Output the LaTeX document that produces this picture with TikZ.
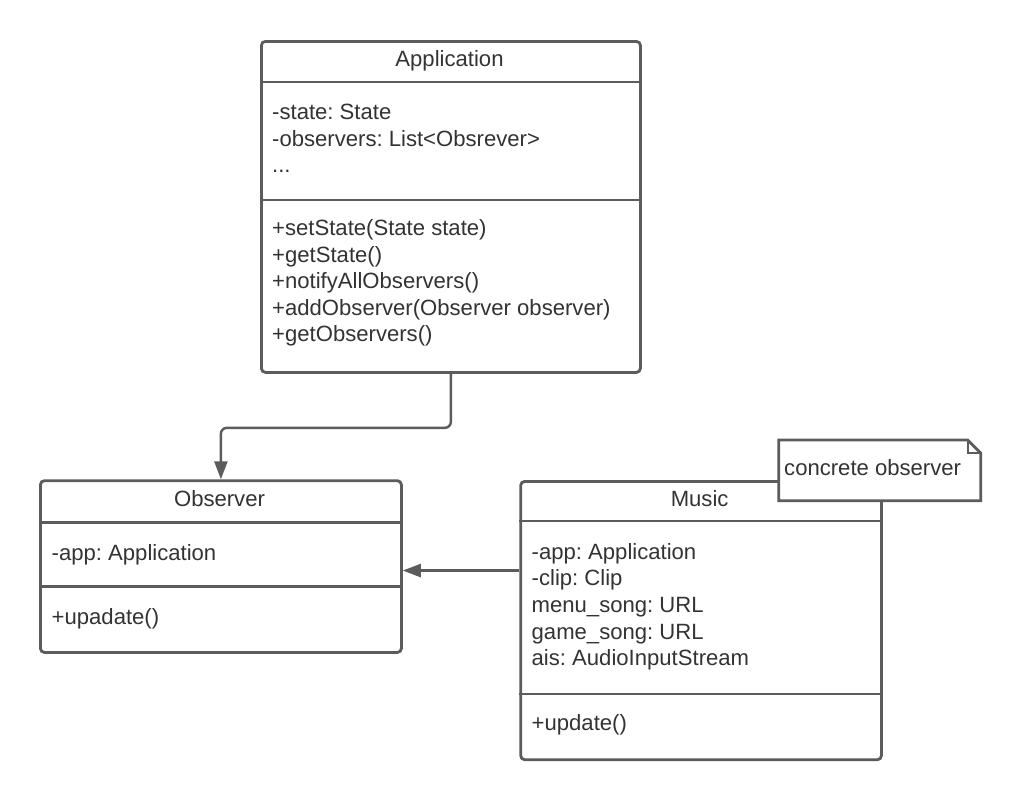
\documentclass[tikz,border=0pt]{standalone}
\usepackage{fontspec}
\setmainfont{Liberation Sans}
\usetikzlibrary{arrows.meta}
\definecolor{umlline}{HTML}{5C5C5C}
\definecolor{umltext}{HTML}{333333}
\frenchspacing
\begin{document}
\begin{tikzpicture}[x=1pt,y=-1pt,
  classbox/.style={draw=umlline,line width=2.8pt,rounded corners=4pt,fill=white,inner sep=0pt,anchor=north west},
  divider/.style={draw=umlline,line width=2.8pt},
  umllabel/.style={inner sep=0pt,text=umltext,font=\fontsize{22.1pt}{26pt}\selectfont},
  member/.style={umllabel,anchor=base west},
  heading/.style={umllabel,anchor=base},
  link/.style={draw=umlline,line width=2.4pt,rounded corners=6pt,-{Triangle[length=18pt,width=13pt]}},
]
\useasboundingbox (0,0) rectangle (1020,798);
\fill[white] (0,0) rectangle (1020,798);

% ---------- Application ----------
\node[classbox,minimum width=379pt,minimum height=331pt] (app) at (260,40) {};
\draw[divider] (app.west |- 0,82) -- (app.east |- 0,82);
\draw[divider] (app.west |- 0,200) -- (app.east |- 0,200);
\node[heading] (apptitle) at (449.5,66) {Application};
\node[member] (appa1) at (272,119.3) {-state: State};
\node[member] (appa2) at (272,146) {-observers: List<Obsrever>};
\node[member] (appa3) at (272,172.4) {...};
\node[member] (appm1) at (272,235.5) {+setState(State state)};
\node[member] (appm2) at (272,262) {+getState()};
\node[member] (appm3) at (272,288.5) {+notifyAllObservers()};
\node[member] (appm4) at (272,315) {+addObserver(Observer observer)};
\node[member] (appm5) at (272,341.7) {+getObservers()};

% ---------- Observer ----------
\node[classbox,minimum width=361pt,minimum height=171.7pt] (obs) at (39,479.3) {};
\draw[divider] (obs.west |- 0,522.3) -- (obs.east |- 0,522.3);
\draw[divider] (obs.west |- 0,586.7) -- (obs.east |- 0,586.7);
\node[heading] (obstitle) at (219.5,506) {Observer};
\node[member] (obsa1) at (51.5,560) {-app: Application};
\node[member] (obsm1) at (51.5,624) {+upadate()};

% ---------- Music ----------
\node[classbox,minimum width=360.7pt,minimum height=278.3pt] (music) at (519.3,480) {};
\draw[divider] (music.west |- 0,521) -- (music.east |- 0,521);
\draw[divider] (music.west |- 0,694) -- (music.east |- 0,694);
\node[heading] (musictitle) at (699.6,506) {Music};
\node[member] (musa1) at (531.5,559) {-app: Application};
\node[member] (musa2) at (531.5,585.7) {-clip: Clip};
\node[member] (musa3) at (531.5,612.4) {menu\_song: URL};
\node[member] (musa4) at (531.5,639) {game\_song: URL};
\node[member] (musa5) at (531.5,665.7) {ais: AudioInputStream};
\node[member] (musm1) at (531.5,730) {+update()};

% ---------- note with folded corner ----------
\node[inner sep=0pt,outer sep=0pt,minimum width=202pt,minimum height=60.7pt,anchor=north west] (note) at (778.7,440) {};
\draw[draw=umlline,line width=2.8pt,fill=white,line join=miter]
  (note.north west) -- ([xshift=-13pt]note.north east) -- ([yshift=-13pt]note.north east)
  -- (note.south east) -- (note.south west) -- cycle;
\draw[draw=umlline,line width=2pt]
  ([xshift=-13pt]note.north east) -- ([xshift=-13pt,yshift=-13pt]note.north east) -- ([yshift=-13pt]note.north east);
\node[member] (notetext) at (784,475) {concrete observer};

% ---------- connectors ----------
\coordinate (obsin) at ([yshift=-4pt]obs.east);
\draw[link] (app.south) -- ++(0,54) -| (obs.north);
\draw[link] (music.west |- obsin) -- (obsin);
\end{tikzpicture}
\end{document}
